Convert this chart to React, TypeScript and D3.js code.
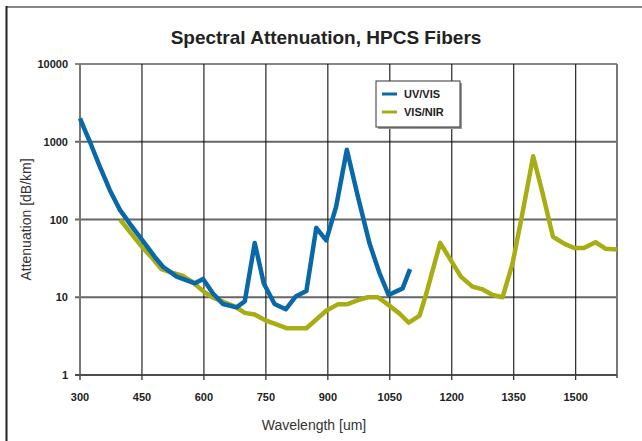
import React from 'react';
import * as d3 from 'd3';

const uvWavelength = [300, 312, 324, 336, 348, 360, 372, 384, 397, 409, 421, 435, 449, 481, 501, 534, 578, 598, 622, 646, 679, 699, 723, 745, 771, 798, 822, 848, 872, 896, 920, 946, 973, 1001, 1025, 1047, 1081, 1099];
const uvAttenuation = [2000, 1400, 1000, 690, 480, 340, 240, 180, 132, 108, 88, 70, 56, 33, 24.7, 18.4, 15.1, 17.2, 11.2, 8.2, 7.4, 8.9, 50, 15, 8.2, 7, 10.2, 12, 78, 54, 146, 790, 195, 49, 20.5, 10.7, 13, 23];

const nirWavelength = [397, 449, 477, 497, 525, 548, 574, 598, 622, 646, 675, 699, 723, 751, 800, 848, 896, 924, 946, 973, 997, 1021, 1045, 1073, 1096, 1122, 1138, 1172, 1222, 1250, 1275, 1299, 1323, 1347, 1371, 1397, 1420, 1445, 1472, 1496, 1520, 1548, 1573, 1600];
const nirAttenuation = [100, 45, 31, 23, 20.5, 19, 15.5, 12, 9.9, 8.8, 7.6, 6.3, 6.0, 5.0, 4.0, 4.0, 6.7, 8.1, 8.1, 9.2, 10, 10, 8.1, 6.2, 4.7, 5.8, 11, 50, 18.4, 13.7, 12.6, 10.7, 10, 27, 120, 650, 217, 60, 49, 43, 43, 51, 42, 41];

const xTicks = [300, 450, 600, 750, 900, 1050, 1200, 1350, 1500];
const yTicks = [1, 10, 100, 1000, 10000];

const seriesNames = ['UV/VIS', 'VIS/NIR'];
const seriesColors = ['#0868a8', '#a9ad14'];

const FONT = 'Liberation Sans, Arial, sans-serif';

export default function App() {
  const width = 642;
  const height = 441;
  const left = 80, right = 617, top = 64, bottom = 375;

  const x = d3.scaleLinear().domain([300, 1600]).range([left, right]);
  const y = d3.scaleLog().domain([1, 10000]).range([bottom, top]);

  const line = d3.line<[number, number]>()
    .x(d => x(d[0]))
    .y(d => y(d[1]));

  const uv = uvWavelength.map((w, i) => [w, uvAttenuation[i]] as [number, number]);
  const nir = nirWavelength.map((w, i) => [w, nirAttenuation[i]] as [number, number]);

  return (
    <svg width={width} height={height} style={{ position: 'absolute', left: 0, top: 0 }} fontFamily={FONT}>
      <rect x={0} y={0} width={width} height={height} fill="#fff" />
      {/* outer frame */}
      <line x1={6.5} x2={width} y1={7} y2={7} stroke="#888" strokeWidth={2} />
      <line x1={6.5} x2={6.5} y1={6} y2={height} stroke="#222" strokeWidth={2} />

      <text x={326} y={44} textAnchor="middle" fontSize={19} fontWeight="bold" fill="#222">
        Spectral Attenuation, HPCS Fibers
      </text>

      {/* horizontal grid */}
      {yTicks.map(t => (
        <g key={t}>
          <line x1={left - 5} x2={right} y1={y(t)} y2={y(t)}
            stroke={t === 10000 ? '#111' : '#666'} strokeWidth={t === 10000 ? 1.2 : 2} />
          <text x={68} y={y(t) + 4} textAnchor="end" fontSize={11} fontWeight="bold" fill="#222">{t}</text>
        </g>
      ))}
      {/* vertical grid */}
      {xTicks.map(t => (
        <g key={t}>
          <line x1={x(t)} x2={x(t)} y1={top} y2={bottom + 5}
            stroke={t === 300 ? '#777' : '#111'} strokeWidth={t === 300 ? 2 : 1.1} />
          <text x={x(t)} y={401} textAnchor="middle" fontSize={11} fontWeight="bold" fill="#222">{t}</text>
        </g>
      ))}
      <line x1={right} x2={right} y1={top} y2={bottom + 3} stroke="#777" strokeWidth={2} />
      <line x1={left - 5} x2={right} y1={bottom} y2={bottom} stroke="#444" strokeWidth={1.5} />

      <path d={line(nir) ?? ''} fill="none" stroke={seriesColors[1]} strokeWidth={4.5} strokeLinejoin="round" />
      <path d={line(uv) ?? ''} fill="none" stroke={seriesColors[0]} strokeWidth={4.5} strokeLinejoin="round" />

      {/* legend */}
      <rect x={378} y={83} width={84} height={46} fill="#999" />
      <rect x={376} y={81} width={84} height={46} fill="#fff" stroke="#333" strokeWidth={1} />
      {seriesNames.map((name, i) => (
        <g key={name}>
          <line x1={382} x2={397} y1={94 + i * 18} y2={94 + i * 18} stroke={seriesColors[i]} strokeWidth={3} />
          <text x={404} y={98 + i * 18} fontSize={11} fontWeight="bold" fill="#222">{name}</text>
        </g>
      ))}

      <text transform={`translate(31,${(top + bottom) / 2}) rotate(-90)`} textAnchor="middle" fontSize={14} fill="#333">
        Attenuation [dB/km]
      </text>
      <text x={314} y={430} textAnchor="middle" fontSize={14} fill="#333">Wavelength [um]</text>
    </svg>
  );
}
